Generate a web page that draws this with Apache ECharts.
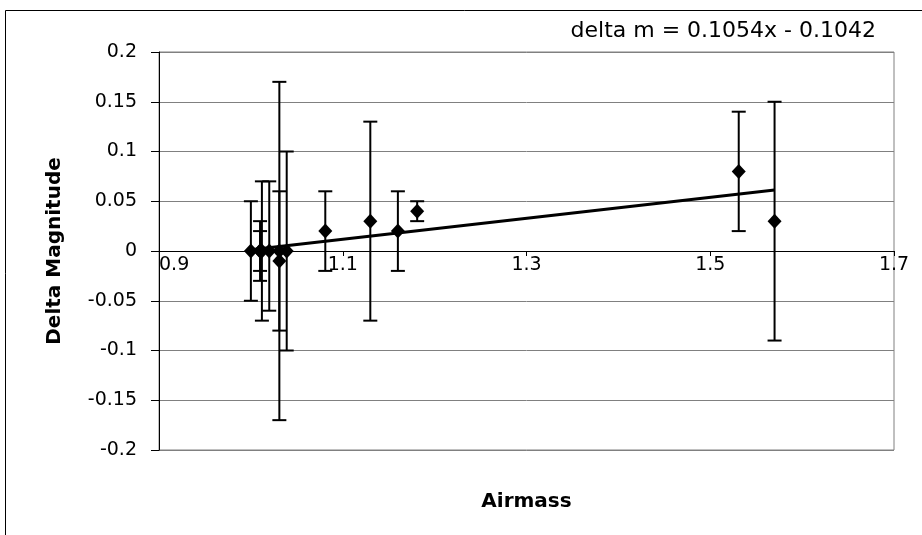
<!DOCTYPE html>
<html>
<head>
<meta charset="utf-8">
<script src="https://cdn.jsdelivr.net/npm/echarts@6/dist/echarts.min.js"></script>
<style>
  html, body { margin: 0; padding: 0; background: #fff; }
  #main { width: 922px; height: 535px; }
</style>
</head>
<body>
<div id="main"></div>
<script>
// measured points (airmass, delta magnitude, error bar up / down)
const airmass  = [1.000, 1.010, 1.010, 1.012, 1.020, 1.031, 1.031, 1.039, 1.081, 1.130, 1.160, 1.181, 1.531, 1.570];
const deltaMag = [0.00,  0.00,  0.00,  0.00,  0.00,  0.00, -0.01,  0.00,  0.02,  0.03,  0.02,  0.04,  0.08,  0.03];
const errUp    = [0.05,  0.03,  0.02,  0.07,  0.07,  0.17,  0.07,  0.10,  0.04,  0.10,  0.04,  0.01,  0.06,  0.12];
const errDown  = [0.05,  0.03,  0.02,  0.07,  0.06,  0.17,  0.07,  0.10,  0.04,  0.10,  0.04,  0.01,  0.06,  0.12];

// linear trend line end points
const trendX = [1.0, 1.57];
const trendY = [0.0012, 0.0613];

const xTicks = [0.9, 1.1, 1.3, 1.5, 1.7];
const yTicks = [-0.2, -0.15, -0.1, -0.05, 0, 0.05, 0.1, 0.15, 0.2];

const FONT = "'DejaVu Sans', sans-serif";

const chartDom = document.getElementById('main');
const myChart = echarts.init(chartDom);

const points = airmass.map((x, i) => [x, deltaMag[i]]);
const bars = airmass.map((x, i) => [x, deltaMag[i] - errDown[i], deltaMag[i] + errUp[i]]);
const trend = trendX.map((x, i) => [x, trendY[i]]);

const option = {
  animation: false,
  backgroundColor: '#fff',
  grid: {
    left: 159,
    right: 28,
    top: 52,
    bottom: 85,
    outerBoundsMode: 'none',
    show: true,
    borderColor: '#808080',
    borderWidth: 1
  },
  graphic: [
    {
      type: 'rect',
      shape: { x: 5.5, y: 10.5, width: 940, height: 560 },
      style: { fill: null, stroke: '#000', lineWidth: 1 },
      silent: true
    },
    {
      type: 'text',
      right: 46,
      top: 20,
      style: { text: 'delta m = 0.1054x - 0.1042', font: '22px ' + FONT, fill: '#000' }
    }
  ],
  xAxis: {
    type: 'value',
    min: xTicks[0],
    max: xTicks[xTicks.length - 1],
    interval: 0.2,
    position: 'bottom',
    offset: -199,   // sits on the y = 0 line
    name: 'Airmass',
    nameLocation: 'middle',
    nameGap: 241,
    nameTextStyle: { fontFamily: FONT, fontSize: 20, fontWeight: 'bold', color: '#000' },
    axisLine: { onZero: false, lineStyle: { color: '#000', width: 1 } },
    axisTick: { show: true, length: 5, lineStyle: { color: '#000' } },
    axisLabel: {
      fontFamily: FONT, fontSize: 19, color: '#000', margin: 5,
      alignMinLabel: 'left',
      formatter: v => String(Math.round(v * 10) / 10)
    },
    splitLine: { show: false }
  },
  yAxis: {
    type: 'value',
    min: yTicks[0],
    max: yTicks[yTicks.length - 1],
    interval: 0.05,
    name: 'Delta Magnitude',
    nameLocation: 'middle',
    nameGap: 94,
    nameTextStyle: { fontFamily: FONT, fontSize: 20, fontWeight: 'bold', color: '#000' },
    axisLine: { show: true, lineStyle: { color: '#000', width: 1 } },
    axisTick: { show: true, length: 8, lineStyle: { color: '#000' } },
    axisLabel: {
      fontFamily: FONT, fontSize: 19, color: '#000', margin: 22,
      formatter: v => String(Math.round(v * 100) / 100)
    },
    splitLine: { show: true, lineStyle: { color: '#808080', width: 1 } }
  },
  series: [
    {
      type: 'custom',
      data: bars,
      z: 3,
      renderItem: function (params, api) {
        const x = api.value(0);
        const lo = api.coord([x, api.value(1)]);
        const hi = api.coord([x, api.value(2)]);
        const hw = 7;
        const style = { stroke: '#000', lineWidth: 2 };
        return {
          type: 'group',
          children: [
            { type: 'line', shape: { x1: lo[0], y1: lo[1], x2: hi[0], y2: hi[1] }, style: style },
            { type: 'line', shape: { x1: hi[0] - hw, y1: hi[1], x2: hi[0] + hw, y2: hi[1] }, style: style },
            { type: 'line', shape: { x1: lo[0] - hw, y1: lo[1], x2: lo[0] + hw, y2: lo[1] }, style: style }
          ]
        };
      }
    },
    {
      type: 'line',
      data: trend,
      symbol: 'none',
      z: 4,
      lineStyle: { color: '#000', width: 3 }
    },
    {
      type: 'scatter',
      data: points,
      symbol: 'diamond',
      symbolSize: [14, 15],
      z: 5,
      itemStyle: { color: '#000', opacity: 1 }
    }
  ]
};

option && myChart.setOption(option);
</script>
</body>
</html>
